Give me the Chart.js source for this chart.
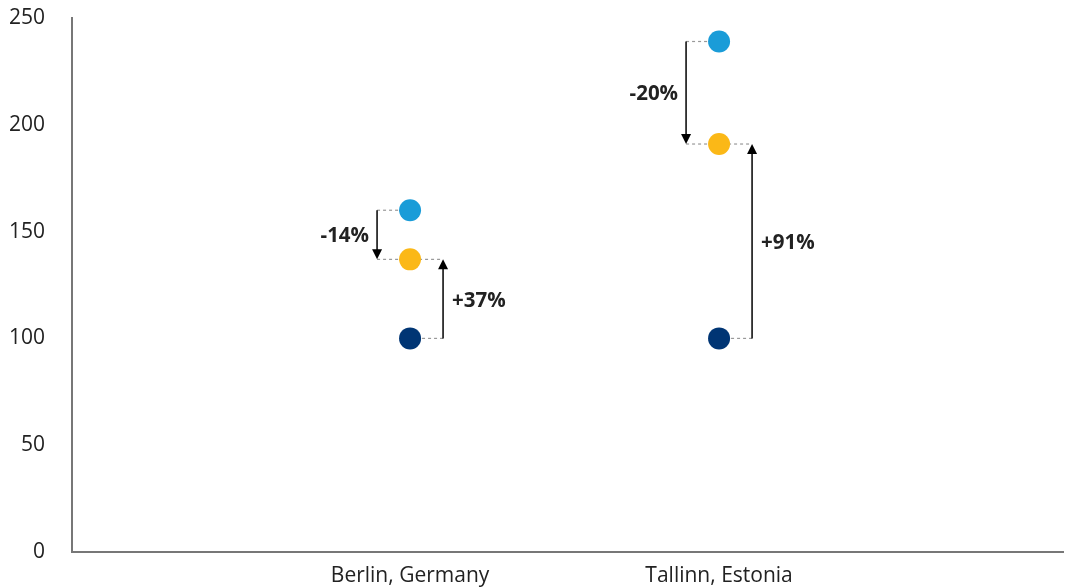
<!DOCTYPE html>
<html>
<head>
<meta charset="utf-8">
<script src="https://cdn.jsdelivr.net/npm/chart.js@4"></script>
<style>
  body { margin: 0; background: #fff; }
  #wrap { width: 1065px; height: 588px; }
</style>
</head>
<body>
<div id="wrap"><canvas id="dotChart" width="1065" height="588"></canvas></div>
<script>
const cities = ["Berlin, Germany", "Tallinn, Estonia"];
const baseValues = [100, 100];
const midValues = [137, 191];
const topValues = [160, 239];
const yTicks = [0, 50, 100, 150, 200, 250];

// arrows: from top to mid (left side) and from base to mid (right side)
const dropLabels = ["-14%", "-20%"];
const riseLabels = ["+37%", "+91%"];

const chartCanvas = document.getElementById("dotChart");

function toPoints(values) {
  return values.map((v, i) => ({ x: i + 1, y: v }));
}

function arrow(ctx, x, y1, y2) {
  const dir = y2 > y1 ? 1 : -1;
  ctx.beginPath();
  ctx.moveTo(x, y1);
  ctx.lineTo(x, y2 - dir * 9);
  ctx.stroke();
  ctx.beginPath();
  ctx.moveTo(x, y2);
  ctx.lineTo(x - 5, y2 - dir * 10);
  ctx.lineTo(x + 5, y2 - dir * 10);
  ctx.closePath();
  ctx.fill();
}

function dashed(ctx, x1, x2, y) {
  ctx.save();
  ctx.setLineDash([3, 3]);
  ctx.strokeStyle = "#999999";
  ctx.lineWidth = 1.2;
  ctx.beginPath();
  ctx.moveTo(x1, y);
  ctx.lineTo(x2, y);
  ctx.stroke();
  ctx.restore();
}

const guides = {
  id: "guides",
  beforeDatasetsDraw(chart) {
    const { ctx, scales: { x, y } } = chart;
    cities.forEach((c, i) => {
      const px = x.getPixelForValue(i + 1);
      dashed(ctx, px - 33, px, y.getPixelForValue(topValues[i]));
      dashed(ctx, px - 33, px + 33, y.getPixelForValue(midValues[i]));
      dashed(ctx, px, px + 33, y.getPixelForValue(baseValues[i]));
    });
  },
  afterDatasetsDraw(chart) {
    const { ctx, scales: { x, y } } = chart;
    ctx.save();
    ctx.strokeStyle = "#000";
    ctx.lineWidth = 1.5;
    ctx.font = "bold 20.5px 'Open Sans'";
    ctx.textBaseline = "middle";
    cities.forEach((c, i) => {
      const px = x.getPixelForValue(i + 1);
      const yTop = y.getPixelForValue(topValues[i]);
      const yMid = y.getPixelForValue(midValues[i]);
      const yBase = y.getPixelForValue(baseValues[i]);

      ctx.fillStyle = "#000";
      arrow(ctx, px - 33, yTop, yMid);
      arrow(ctx, px + 33, yBase, yMid);

      ctx.fillStyle = "#222";
      ctx.textAlign = "right";
      ctx.fillText(dropLabels[i], px - 41, (yTop + yMid) / 2 + 1);
      ctx.textAlign = "left";
      ctx.fillText(riseLabels[i], px + 42, (yBase + yMid) / 2 + 2);
    });
    ctx.restore();
  }
};

new Chart(chartCanvas, {
  type: "scatter",
  data: {
    datasets: [
      { label: "base", data: toPoints(baseValues), backgroundColor: "#003574", borderColor: "#003574" },
      { label: "mid", data: toPoints(midValues), backgroundColor: "#fbb817", borderColor: "#fbb817" },
      { label: "top", data: toPoints(topValues), backgroundColor: "#1a9cd8", borderColor: "#1a9cd8" }
    ]
  },
  options: {
    responsive: false,
    animation: false,
    layout: { autoPadding: false, padding: { top: 18, right: 2, left: 0, bottom: 0 } },
    elements: { point: { radius: 11, hoverRadius: 11, borderWidth: 0 } },
    plugins: {
      legend: { display: false },
      tooltip: { enabled: false }
    },
    scales: {
      x: {
        type: "linear",
        min: -0.094,
        max: 3.113,
        afterBuildTicks: scale => { scale.ticks = cities.map((c, i) => ({ value: i + 1 })); },
        afterFit: scale => {
          scale.height = 36;
          scale.paddingLeft = 0;
          scale.paddingRight = 0;
        },
        grid: { display: false, drawTicks: false },
        border: { color: "#777", width: 2 },
        ticks: {
          padding: 11,
          color: "#222",
          font: { family: "Open Sans", size: 21 },
          callback: v => cities[v - 1] || ""
        }
      },
      y: {
        min: 0,
        max: 250,
        afterBuildTicks: scale => { scale.ticks = yTicks.map(v => ({ value: v })); },
        afterFit: scale => {
          scale.width = 72;
          scale.paddingTop = 0;
          scale.paddingBottom = 0;
        },
        grid: { display: false, drawTicks: false },
        border: { color: "#777", width: 2 },
        ticks: {
          padding: 27,
          color: "#222",
          font: { family: "Open Sans", size: 21 }
        }
      }
    }
  },
  plugins: [guides]
});
</script>
</body>
</html>
